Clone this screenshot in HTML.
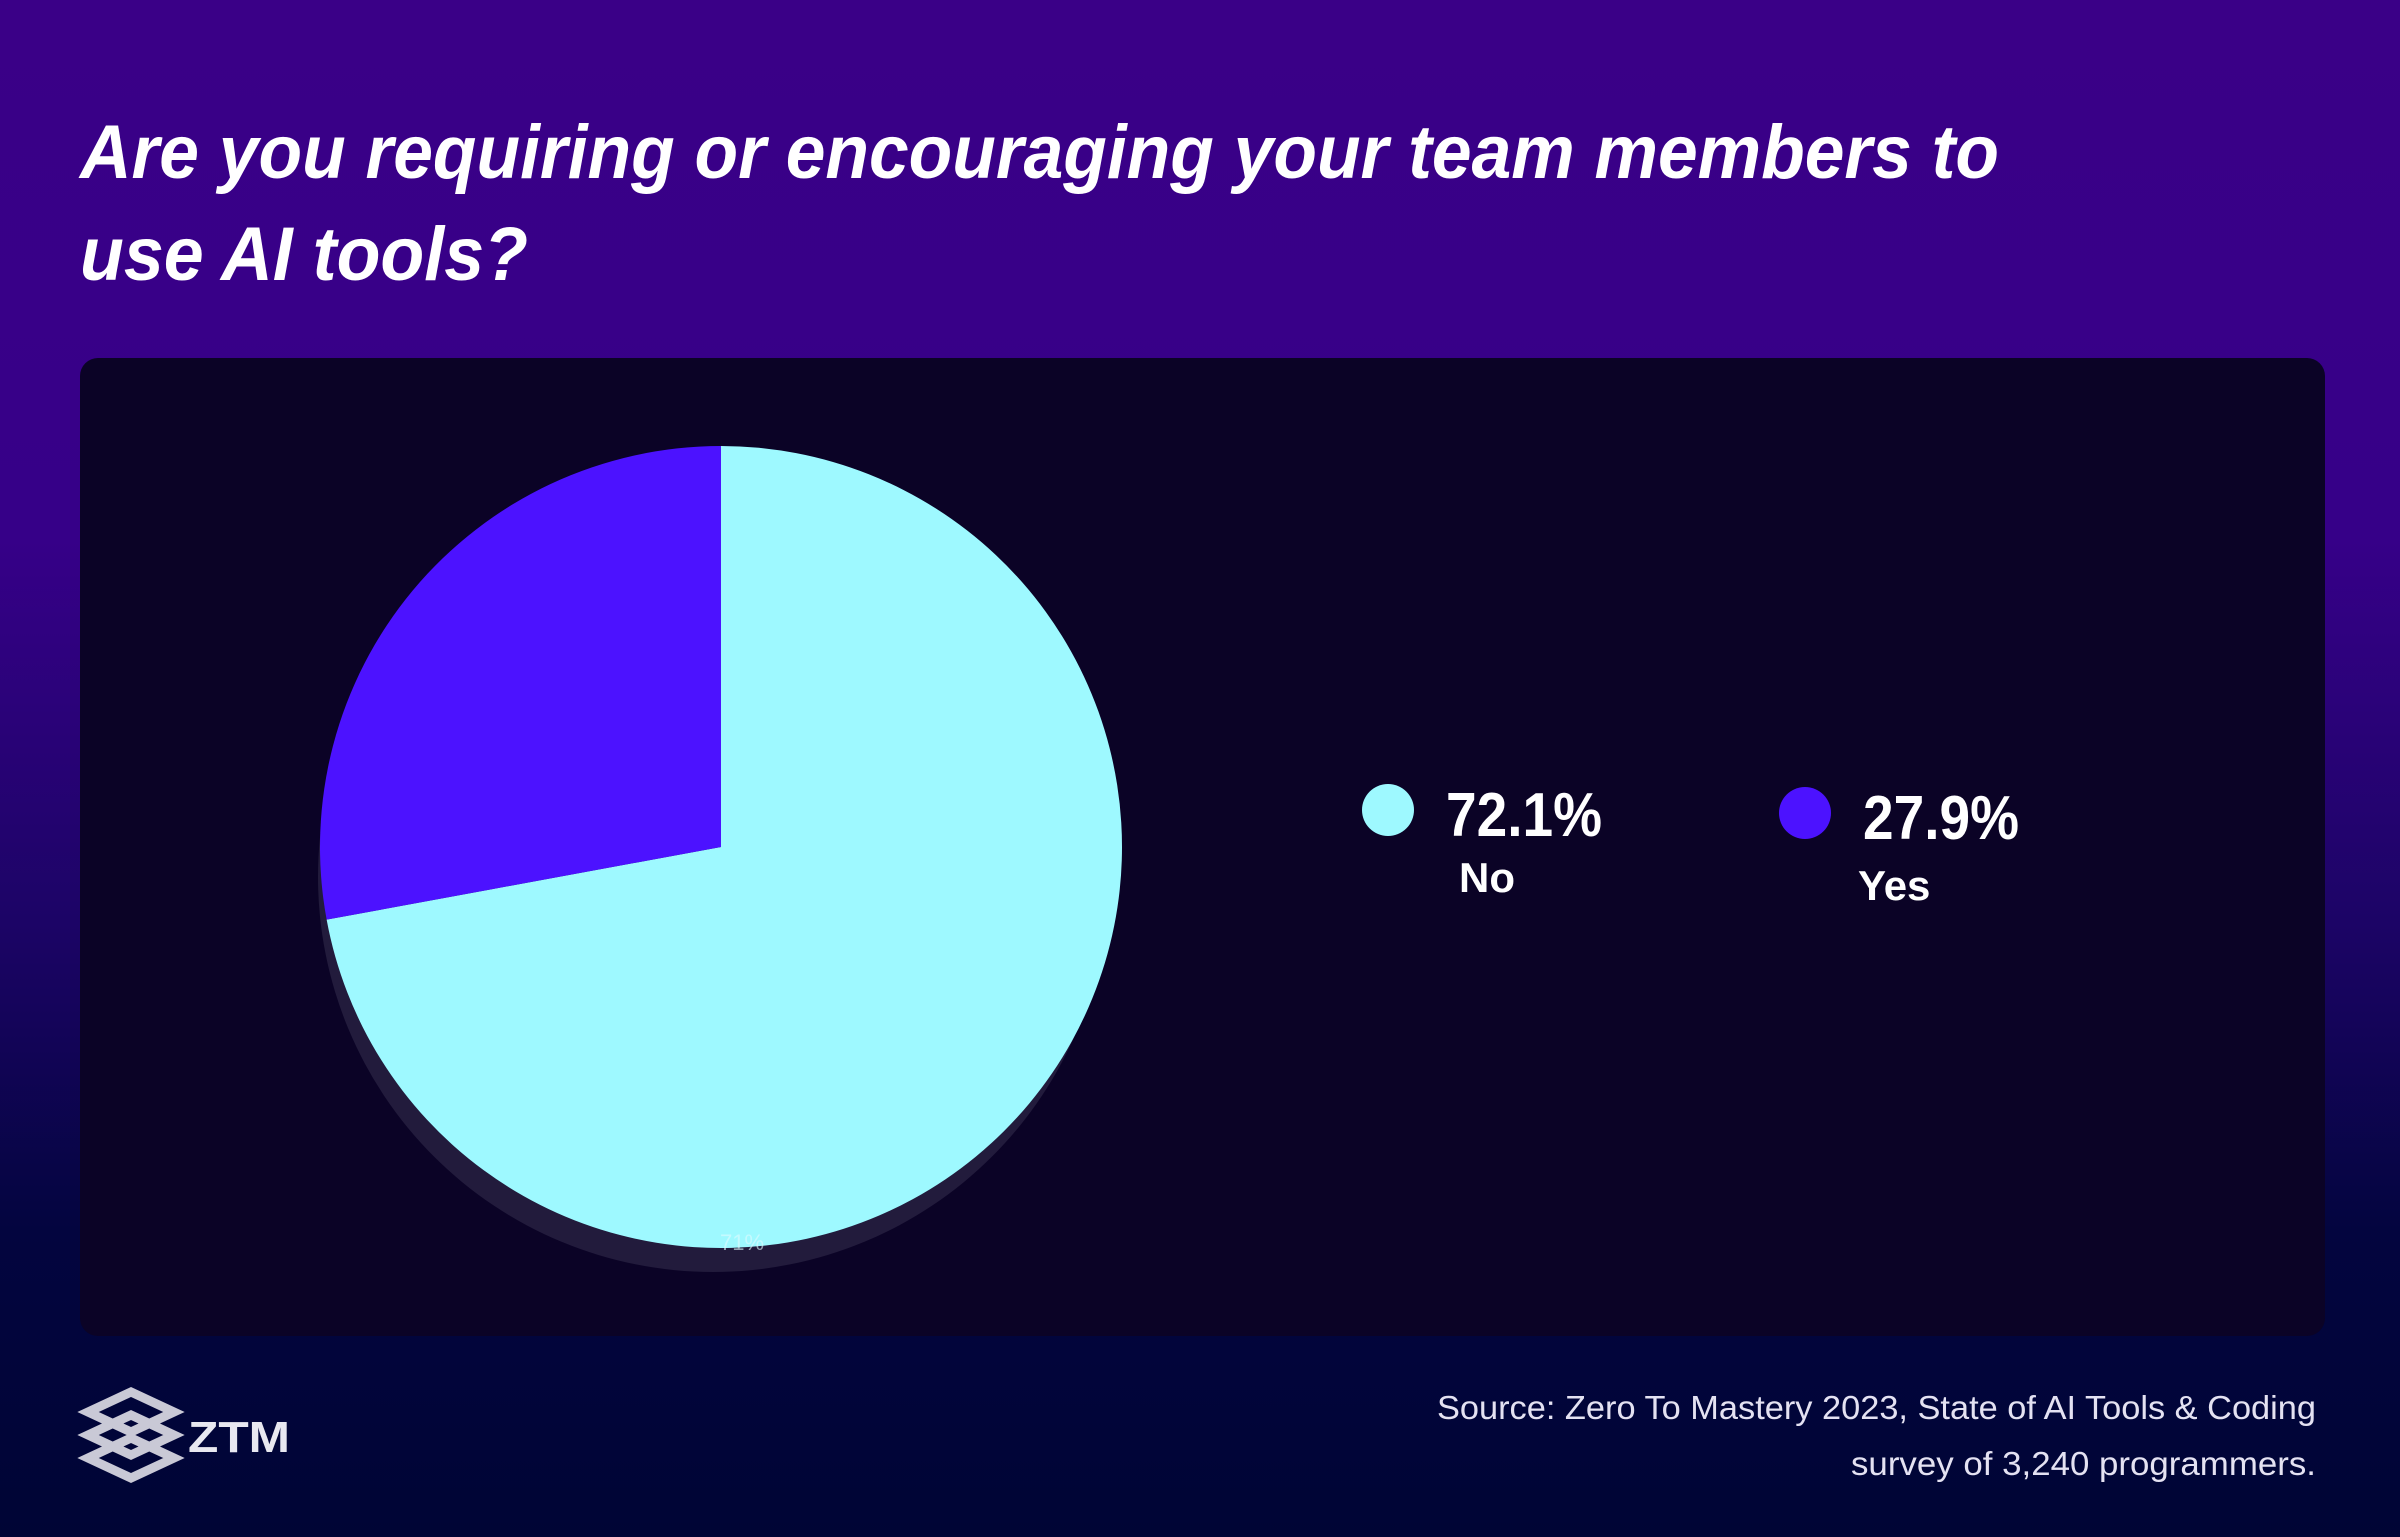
<!DOCTYPE html>
<html><head><meta charset="utf-8"><style>
html,body{margin:0;padding:0}
body{width:2400px;height:1537px;overflow:hidden;background:linear-gradient(180deg,#3a0087 0%,#360088 35%,#1c0466 60%,#03053f 80%,#000535 100%);font-family:"Liberation Sans",sans-serif}
svg{position:absolute;left:0;top:0}
</style></head><body>
<svg width="2400" height="1537" viewBox="0 0 2400 1537">
<text x="80" y="178" fill="#fff" font-size="76" font-weight="bold" font-style="italic" textLength="1919" lengthAdjust="spacingAndGlyphs">Are you requiring or encouraging your team members to</text>
<text x="80" y="280" fill="#fff" font-size="76" font-weight="bold" font-style="italic" textLength="448" lengthAdjust="spacingAndGlyphs">use AI tools?</text>
<rect x="80" y="358" width="2245" height="978" rx="18" fill="#0b0326"/>
<g id="pie"></g>
<g id="legend"></g>
<text x="2316" y="1419" text-anchor="end" fill="#e4e2f2" font-size="33" textLength="879" lengthAdjust="spacingAndGlyphs">Source: Zero To Mastery 2023, State of AI Tools &amp; Coding</text>
<text x="2316" y="1475" text-anchor="end" fill="#e4e2f2" font-size="33" textLength="465" lengthAdjust="spacingAndGlyphs">survey of 3,240 programmers.</text>
<g>
<polygon points="131,1392 174,1412 131,1432 88,1412" fill="none" stroke="#c9c9d6" stroke-width="9"/>
<polygon points="131,1415 174,1435 131,1455 88,1435" fill="none" stroke="#c9c9d6" stroke-width="9"/>
<polygon points="131,1438 174,1458 131,1478 88,1458" fill="none" stroke="#c9c9d6" stroke-width="9"/>
<text x="188" y="1452" fill="#e8e8f0" font-size="44" font-weight="bold" textLength="102" lengthAdjust="spacingAndGlyphs">ZTM</text>
</g>
</svg>
<script>
const categories=["No","Yes"];
const values=[72.1,27.9];
const labels=["72.1%","27.9%"];
const colors=["#9ef9ff","#4c12ff"];
const NS="http://www.w3.org/2000/svg";
const cx=721,cy=847,r=401;
const pie=document.getElementById("pie");
const sh=document.createElementNS(NS,"circle");


sh.setAttribute("cx",cx-8);sh.setAttribute("cy",cy+30);sh.setAttribute("r",r-6);sh.setAttribute("fill","#221b3c");
pie.appendChild(sh);
const total=values.reduce((a,b)=>a+b,0);
let start=0;
function pt(a){return [cx+r*Math.sin(a),cy-r*Math.cos(a)];}
values.forEach((v,i)=>{
  const a0=start*2*Math.PI/total, a1=(start+v)*2*Math.PI/total;
  const p0=pt(a0),p1=pt(a1);
  const large=(a1-a0)>Math.PI?1:0;
  const p=document.createElementNS(NS,"path");
  
  
  p.setAttribute("d",`M${cx},${cy}L${p0[0]},${p0[1]}A${r},${r} 0 ${large} 1 ${p1[0]},${p1[1]}Z`);
  p.setAttribute("fill",colors[i]);
  pie.appendChild(p);
  start+=v;
});
const lbl=document.createElementNS(NS,"text");


lbl.setAttribute("x",742);lbl.setAttribute("y",1250);lbl.setAttribute("text-anchor","middle");
lbl.setAttribute("fill","#e0fcff");lbl.setAttribute("font-size","22");lbl.setAttribute("opacity","0.6");
lbl.textContent="71%";pie.appendChild(lbl);
const leg=document.getElementById("legend");
const lx=[1388,1805],ly=[810,813];
categories.forEach((c,i)=>{
  const g=document.createElementNS(NS,"g");
  
  
  const ci=document.createElementNS(NS,"circle");
  ci.setAttribute("cx",lx[i]);ci.setAttribute("cy",ly[i]);ci.setAttribute("r",26);ci.setAttribute("fill",colors[i]);
  g.appendChild(ci);
  const t=document.createElementNS(NS,"text");
  t.setAttribute("x",lx[i]+58);t.setAttribute("y",ly[i]+26);t.setAttribute("fill","#fff");
  t.setAttribute("font-size","62");t.setAttribute("font-weight","bold");
  t.setAttribute("textLength","156");t.setAttribute("lengthAdjust","spacingAndGlyphs");
  t.textContent=labels[i];g.appendChild(t);
  const n=document.createElementNS(NS,"text");
  n.setAttribute("x",lx[i]+(i?53:71));n.setAttribute("y",ly[i]+(i?87:82));n.setAttribute("fill","#fff");
  n.setAttribute("font-size","42");n.setAttribute("font-weight","bold");
  n.textContent=c;g.appendChild(n);
  leg.appendChild(g);
});
</script>
</body></html>
